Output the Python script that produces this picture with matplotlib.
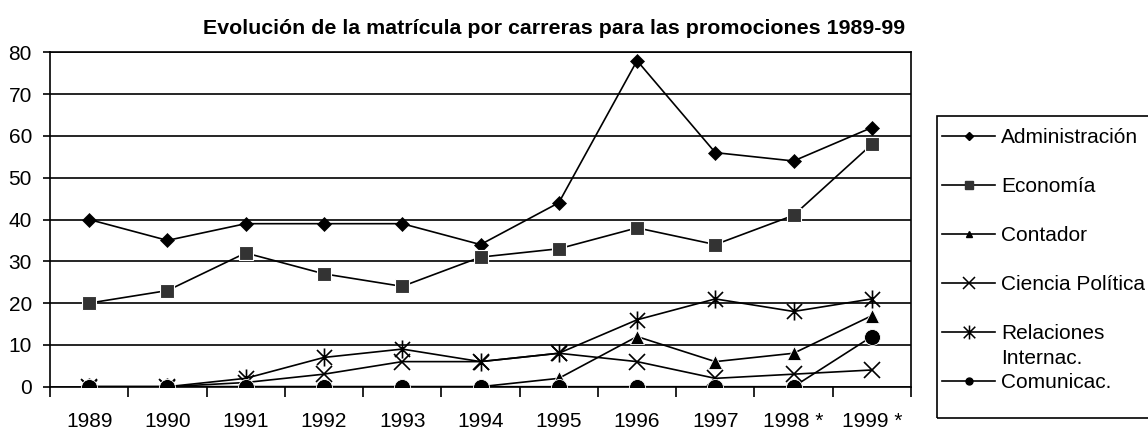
# Evolución de la matrícula por carreras, promociones 1989-99
import matplotlib
matplotlib.use("Agg")
import matplotlib.pyplot as plt
from matplotlib.lines import Line2D
from matplotlib.patches import Rectangle
from matplotlib.path import Path

plt.rcParams['font.family'] = ['Liberation Sans', 'DejaVu Sans']

years = ["1989", "1990", "1991", "1992", "1993", "1994",
         "1995", "1996", "1997", "1998 *", "1999 *"]
administracion = [40, 35, 39, 39, 39, 34, 44, 78, 56, 54, 62]
economia = [20, 23, 32, 27, 24, 31, 33, 38, 34, 41, 58]
contador = [0, 0, 0, 0, 0, 0, 2, 12, 6, 8, 17]
ciencia_politica = [0, 0, 1, 3, 6, 6, 8, 6, 2, 3, 4]
relaciones = [0, 0, 2, 7, 9, 6, 8, 16, 21, 18, 21]
comunicac = [0, 0, 0, 0, 0, 0, 0, 0, 0, 0, 12]
series_names = ["Administración", "Economía", "Contador", "Ciencia Política",
                "Relaciones", "Comunicac."]

W, H = 1148, 429
fig = plt.figure(figsize=(W / 100, H / 100), dpi=100)
ax = fig.add_axes([50 / W, (H - 386.7) / H, 861 / W, 334.4 / H])

x = list(range(len(years)))
lw = 1.2

# asterisk marker: X plus a vertical stroke
asterisk = Path([(-1, -1), (1, 1), (-1, 1), (1, -1), (0, -1.2), (0, 1.2)],
                [Path.MOVETO, Path.LINETO, Path.MOVETO, Path.LINETO,
                 Path.MOVETO, Path.LINETO])

ax.plot(x, administracion, color='black', lw=lw, marker='D', ms=7.5,
        mfc='black', mec='black', mew=0.5, zorder=3)
ax.plot(x, economia, color='black', lw=lw, marker='s', ms=9.5,
        mfc='#333333', mec='white', mew=0.8, zorder=3)
ax.plot(x, contador, color='black', lw=lw, marker='^', ms=10,
        mfc='black', mec='white', mew=0.6, zorder=3)
ax.plot(x, ciencia_politica, color='black', lw=lw, marker='x', ms=11,
        mec='black', mew=1.2, zorder=3)
ax.plot(x, relaciones, color='black', lw=lw, marker=asterisk, ms=13,
        mfc='none', mec='black', mew=1.2, zorder=3)
ax.plot(x, comunicac, color='black', lw=lw, marker='o', ms=11.5,
        mfc='black', mec='white', mew=0.6, zorder=4)

ax.set_xlim(-0.5, len(years) - 0.5)
ax.set_ylim(0, 80)
ax.set_yticks(range(0, 81, 10))
ax.set_xticks(x)
ax.set_xticklabels(years)
ax.set_xticks([i - 0.5 for i in range(len(years) + 1)], minor=True)
ax.tick_params(axis='x', which='major', length=0, pad=18, labelsize=15)
ax.tick_params(axis='x', which='minor', length=7, width=1.2, direction='out')
ax.tick_params(axis='y', length=5, width=1.2, pad=8, labelsize=15)
ax.yaxis.grid(True, color='black', lw=1.2)
ax.set_axisbelow(True)
for s in ax.spines.values():
    s.set_color('black')
    s.set_linewidth(1.2)

fig.text(554 / W, (H - 33.5) / H,
         "Evolución de la matrícula por carreras para las promociones 1989-99",
         ha='center', va='baseline', fontsize=15.4, fontweight='bold')

# legend
handles = [
    Line2D([], [], color='black', lw=lw, marker='D', ms=4),
    Line2D([], [], color='black', lw=lw, marker='s', ms=6, mfc='#333333', mec='#333333'),
    Line2D([], [], color='black', lw=lw, marker='^', ms=5),
    Line2D([], [], color='black', lw=lw, marker='x', ms=9, mew=1.1),
    Line2D([], [], color='black', lw=lw, marker=asterisk, ms=10, mfc='none', mew=1.1),
    Line2D([], [], color='black', lw=lw, marker='o', ms=5),
]
leg = fig.legend(handles, series_names, loc='upper left',
                 bbox_to_anchor=(942 / W, (H - 128) / H), frameon=False,
                 fontsize=15, handlelength=2.55, handletextpad=0.3,
                 labelspacing=1.44, borderpad=0, borderaxespad=0,
                 numpoints=1)
fig.patches.append(Rectangle((937 / W, (H - 418) / H), 230 / W, 302 / H,
                             transform=fig.transFigure, fill=False,
                             edgecolor='black', lw=1.2))

fig.canvas.draw()
rel = leg.get_texts()[4].get_window_extent()
cy = (rel.y0 + rel.y1) / 2
fig.text(rel.x0 / W, (cy - 25) / H, "Internac.", fontsize=15,
         ha='left', va='center')

fig.savefig("out.png", dpi=100)
